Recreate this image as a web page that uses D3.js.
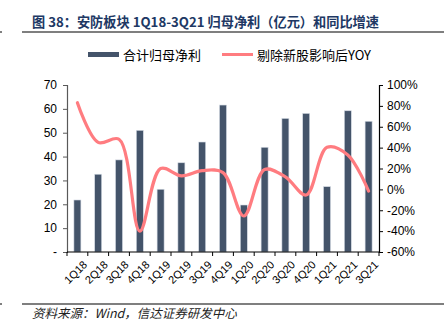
<!DOCTYPE html>
<html><head><meta charset="utf-8">
<script src="https://cdn.jsdelivr.net/npm/d3@7"></script>
<style>
body{margin:0;background:#fff;}
svg{display:block;font-family:"Liberation Sans",Arial,"Noto Sans CJK SC",sans-serif;}
</style></head>
<body><svg id="c" width="444" height="333"></svg>
<script>
const categories = ["1Q18","2Q18","3Q18","4Q18","1Q19","2Q19","3Q19","4Q19","1Q20","2Q20","3Q20","4Q20","1Q21","2Q21","3Q21"];
const profit = [21.8,32.6,38.6,51.0,26.3,37.4,46.1,61.6,19.7,43.9,56.0,58.1,27.4,59.2,54.8];
const yoy = [83,45,48,-40,20,13,18,16,-25.5,19,12,-5.4,40.3,33,-1.6];
const leftTicks = [0,10,20,30,40,50,60,70];
const rightTicks = [-60,-40,-20,0,20,40,60,80,100];
const seriesNames = ["合计归母净利","剔除新股影响后YOY"];
const titleText = "图 38：安防板块 1Q18-3Q21 归母净利（亿元）和同比增速";
const sourceText = "资料来源：Wind，信达证券研发中心";

const svg = d3.select("#c");
const X0=67, X1=379, Y0=252, Y1=85;
const x = d3.scaleBand().domain(categories).range([X0,X1]).padding(0);
const yL = d3.scaleLinear().domain([0,70]).range([Y0,Y1]);
const yR = d3.scaleLinear().domain([-60,100]).range([Y0,Y1]);
const barColor="#44546A", lineColor="#FF7C80";

// title
svg.append("text").attr("x",32).attr("y",27).attr("font-size",13.2).attr("font-weight","bold")
  .attr("fill","#203864").attr("font-family","'Noto Sans CJK SC','Liberation Sans',sans-serif").text(titleText);
svg.append("line").attr("x1",22).attr("x2",444).attr("y1",32).attr("y2",32).attr("stroke","#000").attr("stroke-width",1.2);
svg.append("line").attr("x1",0).attr("x2",2).attr("y1",32).attr("y2",32).attr("stroke","#000");

// legend
const lg = svg.append("g").attr("font-size",13).attr("fill","#000").attr("font-family","'Noto Sans CJK SC','Liberation Sans',sans-serif");
lg.append("rect").attr("x",88).attr("y",52).attr("width",31).attr("height",5).attr("fill",barColor);
lg.append("text").attr("x",123).attr("y",59.5).text(seriesNames[0]);
lg.append("line").attr("x1",222).attr("x2",253).attr("y1",54.5).attr("y2",54.5).attr("stroke",lineColor).attr("stroke-width",3);
lg.append("text").attr("x",257).attr("y",59.5).text(seriesNames[1]);

// bars
const bw = 7;
svg.append("g").selectAll("rect").data(profit).join("rect")
  .attr("x",(d,i)=>x(categories[i])+x.bandwidth()/2-bw/2)
  .attr("width",bw)
  .attr("y",d=>yL(d)).attr("height",d=>Y0-yL(d))
  .attr("fill",barColor).attr("stroke","#D6DCE5").attr("stroke-width",0.6);

// left axis
const la = svg.append("g").attr("transform",`translate(${X0},0)`)
  .call(d3.axisLeft(yL).tickValues(leftTicks).tickSize(4).tickPadding(6).tickFormat(d=>d===0?"-":d));
la.select(".domain").attr("stroke","#595959").attr("stroke-width",1.2);
la.selectAll(".tick line").attr("stroke","#595959");
la.selectAll("text").attr("font-size",12).attr("fill","#000").attr("font-family","'Liberation Sans',Arial,sans-serif");

// right axis
const ra = svg.append("g").attr("transform",`translate(${X1},0)`)
  .call(d3.axisRight(yR).tickValues(rightTicks).tickSize(4).tickPadding(4).tickFormat(d=>d+"%"));
ra.select(".domain").attr("stroke","#000").attr("stroke-width",1.2);
ra.selectAll(".tick line").attr("stroke","#000");
ra.selectAll("text").attr("font-size",12).attr("fill","#000").attr("font-family","'Liberation Sans',Arial,sans-serif");

// bottom axis
const ba = svg.append("g").attr("transform",`translate(0,${Y0})`);
ba.append("line").attr("x1",X0).attr("x2",X1).attr("stroke","#000").attr("stroke-width",1.2);
const bounds = categories.map(c=>x(c)).concat([X1]);
ba.selectAll("line.t").data(bounds).join("line").attr("class","t")
  .attr("x1",d=>d).attr("x2",d=>d).attr("y1",0).attr("y2",4).attr("stroke","#000");
ba.selectAll("text").data(categories).join("text")
  .attr("transform",d=>`translate(${x(d)+x.bandwidth()/2+5},${8}) rotate(-45)`)
  .attr("text-anchor","end").attr("dy","0.7em").attr("font-size",11).attr("fill","#000")
  .attr("font-family","'Liberation Sans',Arial,sans-serif").text(d=>d);

// line
svg.append("path").datum(yoy)
  .attr("d",d3.line().x((d,i)=>x(categories[i])+x.bandwidth()/2).y(d=>yR(d)).curve(d3.curveCatmullRom.alpha(0.5)))
  .attr("fill","none").attr("stroke",lineColor).attr("stroke-width",3.2).attr("stroke-linecap","round");

// source
svg.append("line").attr("x1",22).attr("x2",444).attr("y1",304).attr("y2",304).attr("stroke","#000").attr("stroke-width",1.2);
svg.append("line").attr("x1",0).attr("x2",2).attr("y1",304).attr("y2",304).attr("stroke","#000");
svg.append("text").attr("x",32).attr("y",318).attr("font-size",12.5).attr("font-style","italic").attr("fill","#222")
  .attr("font-family","'Noto Sans CJK SC','Liberation Sans',sans-serif").text(sourceText);
</script></body></html>
